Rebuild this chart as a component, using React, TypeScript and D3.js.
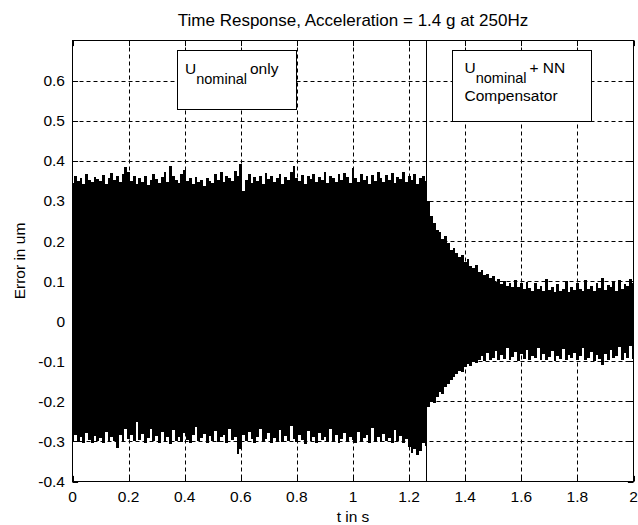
import React from 'react';
import * as d3 from 'd3';

const TITLE = 'Time Response, Acceleration = 1.4 g at 250Hz';
const X_LABEL = 't in s';
const Y_LABEL = 'Error in um';
const X_TICKS = [0, 0.2, 0.4, 0.6, 0.8, 1, 1.2, 1.4, 1.6, 1.8, 2];
const X_TICK_LABELS = ['0', '0.2', '0.4', '0.6', '0.8', '1', '1.2', '1.4', '1.6', '1.8', '2'];
const Y_TICKS = [-0.4, -0.3, -0.2, -0.1, 0, 0.1, 0.2, 0.3, 0.4, 0.5, 0.6];
const Y_TICK_LABELS = ['-0.4', '-0.3', '-0.2', '-0.1', '0', '0.1', '0.2', '0.3', '0.4', '0.5', '0.6'];
const X_DOMAIN = [0, 2];
const Y_DOMAIN = [-0.4, 0.7];
const SAMPLE_STEP = 0.01; // s between envelope readings
const SWITCH_TIME = 1.262; // s, NN compensator switched on

// envelope of the error signal, in thousandths of um, read every 0.01 s
const UPPER_ENVELOPE_MILLI = [
  345, 362, 350, 358, 341, 366, 352, 347, 360, 355,
  349, 364, 343, 357, 370, 351, 362, 346, 368, 385,
  372, 350, 363, 342, 356, 348, 361, 340, 352, 366,
  355, 344, 360, 371, 348, 388, 362, 352, 345, 366,
  378, 350, 358, 341, 360, 347, 352, 338, 356, 349,
  344, 368, 353, 372, 346, 361, 357, 350, 374, 362,
  392, 325, 352, 367, 345, 359, 349, 363, 341, 370,
  354, 362, 348, 357, 366, 343, 360, 352, 371, 386,
  358, 349, 365, 342, 361, 355, 368, 347, 360, 352,
  373, 345, 362, 356, 348, 366, 351, 370, 359, 344,
  382, 356, 348, 367, 353, 361, 342, 364, 350, 372,
  357, 346, 365, 352, 369, 344, 360, 355, 371, 348,
  362, 353, 367, 341, 358, 363, 350, 300, 262, 245,
  228, 222, 206, 212, 195, 178, 182, 170, 160, 165,
  148, 155, 138, 132, 140, 122, 128, 115, 118, 108,
  112, 98, 104, 92, 100, 88, 96, 84, 102, 86,
  94, 80, 98, 82, 76, 95, 79, 88, 74, 104,
  78, 86, 72, 93, 75, 81, 99, 73, 85, 77,
  96, 80, 74, 102, 79, 88, 76, 94, 82, 107,
  78, 90, 84, 98, 76, 103, 81, 92, 87, 106,
  95,
];

const LOWER_ENVELOPE_MILLI = [
  -298, -284, -302, -290, -305, -280, -296, -303, -287, -300,
  -292, -305, -276, -301, -289, -298, -316, -283, -302, -270,
  -295, -285, -300, -252, -297, -281, -304, -291, -268, -300,
  -286, -303, -277, -298, -290, -306, -272, -299, -288, -302,
  -279, -296, -303, -285, -265, -300, -292, -281, -304, -287,
  -299, -274, -302, -290, -283, -305, -270, -297, -288, -332,
  -318, -284, -300, -276, -295, -303, -289, -268, -301, -293,
  -280, -304, -291, -298, -272, -302, -286, -300, -262, -295,
  -301, -284, -297, -306, -275, -299, -288, -303, -280, -296,
  -290, -302, -269, -299, -285, -304, -293, -278, -301, -288,
  -297, -305, -276, -300, -291, -283, -303, -266, -298, -289,
  -302, -281, -299, -292, -305, -272, -300, -287, -303, -295,
  -315, -330, -318, -335, -325, -305, -312, -215, -200, -203,
  -190, -176, -182, -165, -158, -148, -140, -132, -125, -128,
  -115, -108, -112, -100, -104, -96, -88, -99, -80, -97,
  -92, -75, -98, -85, -94, -68, -97, -89, -78, -99,
  -83, -95, -72, -98, -86, -93, -66, -97, -81, -96,
  -90, -74, -99, -87, -95, -70, -98, -84, -93, -79,
  -97, -88, -68, -96, -91, -76, -99, -85, -94, -110,
  -82, -97, -73, -93, -86, -64, -98, -80, -92, -62,
  -95,
];

const W = 638;
const H = 525;
const PLOT = { left: 72.5, right: 633.5, top: 40.5, bottom: 481.5 };
const FONT = '"Liberation Sans", Arial, sans-serif';
const FS = 15.5;
const SUB_FS = 14.5;

export default function App() {
  const x = d3.scaleLinear().domain(X_DOMAIN).range([PLOT.left, PLOT.right]);
  const y = d3.scaleLinear().domain(Y_DOMAIN).range([PLOT.bottom, PLOT.top]);

  const samples = UPPER_ENVELOPE_MILLI.map((u, i) => ({
    t: i * SAMPLE_STEP,
    hi: u / 1000,
    lo: LOWER_ENVELOPE_MILLI[i] / 1000,
  }));

  const area = d3
    .area<{ t: number; hi: number; lo: number }>()
    .x((d) => x(d.t))
    .y0((d) => y(d.lo))
    .y1((d) => y(d.hi))
    .curve(d3.curveStep);

  const tickLen = 5.6;
  const dash = '4,3';

  return (
    <svg
      width={W}
      height={H}
      style={{ position: 'absolute', left: 0, top: 0, background: '#fff' }}
      fontFamily={FONT}
    >
      <rect x={0} y={0} width={W} height={H} fill="#fff" />
      <defs>
        <clipPath id="plotClip">
          <rect x={PLOT.left} y={PLOT.top} width={PLOT.right - PLOT.left} height={PLOT.bottom - PLOT.top} />
        </clipPath>
      </defs>

      {/* grid */}
      <g stroke="#000" strokeWidth={1} strokeDasharray={dash} fill="none">
        {X_TICKS.filter((t) => t > X_DOMAIN[0] && t < X_DOMAIN[1]).map((t) => (
          <line key={'gx' + t} x1={Math.round(x(t)) + 0.5} x2={Math.round(x(t)) + 0.5} y1={PLOT.top} y2={PLOT.bottom} />
        ))}
        {Y_TICKS.filter((v) => v > Y_DOMAIN[0] && v < Y_DOMAIN[1]).map((v) => (
          <line key={'gy' + v} x1={PLOT.left} x2={PLOT.right} y1={Math.round(y(v)) + 0.5} y2={Math.round(y(v)) + 0.5} />
        ))}
      </g>

      {/* signal */}
      <g clipPath="url(#plotClip)">
        <path d={area(samples) || ''} fill="#000" stroke="none" shapeRendering="crispEdges" />
      </g>

      {/* switch line */}
      <line
        x1={Math.round(x(SWITCH_TIME)) + 0.5}
        x2={Math.round(x(SWITCH_TIME)) + 0.5}
        y1={PLOT.top}
        y2={PLOT.bottom}
        stroke="#000"
        strokeWidth={1}
      />

      {/* ticks */}
      <g stroke="#000" strokeWidth={1}>
        {X_TICKS.map((t) => {
          const px = Math.round(x(t)) + 0.5;
          return (
            <g key={'tx' + t}>
              <line x1={px} x2={px} y1={PLOT.bottom} y2={PLOT.bottom - tickLen} />
              <line x1={px} x2={px} y1={PLOT.top} y2={PLOT.top + tickLen} />
            </g>
          );
        })}
        {Y_TICKS.map((v) => {
          const py = Math.round(y(v)) + 0.5;
          return (
            <g key={'ty' + v}>
              <line x1={PLOT.left} x2={PLOT.left + tickLen} y1={py} y2={py} />
              <line x1={PLOT.right} x2={PLOT.right - tickLen} y1={py} y2={py} />
            </g>
          );
        })}
      </g>

      {/* axes box */}
      <rect
        x={PLOT.left}
        y={PLOT.top}
        width={PLOT.right - PLOT.left}
        height={PLOT.bottom - PLOT.top}
        fill="none"
        stroke="#000"
        strokeWidth={1}
      />

      {/* tick labels */}
      <g fontSize={FS} fill="#000">
        {X_TICKS.map((t, i) => (
          <text key={'lx' + t} x={x(t)} y={502} textAnchor="middle">
            {X_TICK_LABELS[i]}
          </text>
        ))}
        {Y_TICKS.map((v, i) => (
          <text key={'ly' + v} x={65} y={y(v)} dy="0.36em" textAnchor="end">
            {Y_TICK_LABELS[i]}
          </text>
        ))}
      </g>

      {/* labels */}
      <text x={(PLOT.left + PLOT.right) / 2} y={26} textAnchor="middle" fontSize={17} fill="#000">
        {TITLE}
      </text>
      <text x={(PLOT.left + PLOT.right) / 2} y={522} textAnchor="middle" fontSize={FS} fill="#000">
        {X_LABEL}
      </text>
      <text
        transform={`translate(25, ${(PLOT.top + PLOT.bottom) / 2}) rotate(-90)`}
        textAnchor="middle"
        fontSize={FS}
        fill="#000"
      >
        {Y_LABEL}
      </text>

      {/* annotation boxes */}
      <rect x={177.5} y={50.5} width={119} height={59} fill="#fff" stroke="#000" strokeWidth={1} />
      <text x={185} y={74} fontSize={FS} fill="#000">
        U
        <tspan dy={10} fontSize={SUB_FS}>nominal</tspan>
        <tspan dy={-10} dx={3}>only</tspan>
      </text>

      <rect x={452.5} y={50.5} width={139} height={71} fill="#fff" stroke="#000" strokeWidth={1} />
      <text x={464.5} y={73} fontSize={FS} fill="#000">
        U
        <tspan dy={10} fontSize={SUB_FS}>nominal</tspan>
        <tspan dy={-10} dx={3}>+ NN</tspan>
      </text>
      <text x={464.5} y={101} fontSize={FS} fill="#000">
        Compensator
      </text>
    </svg>
  );
}
